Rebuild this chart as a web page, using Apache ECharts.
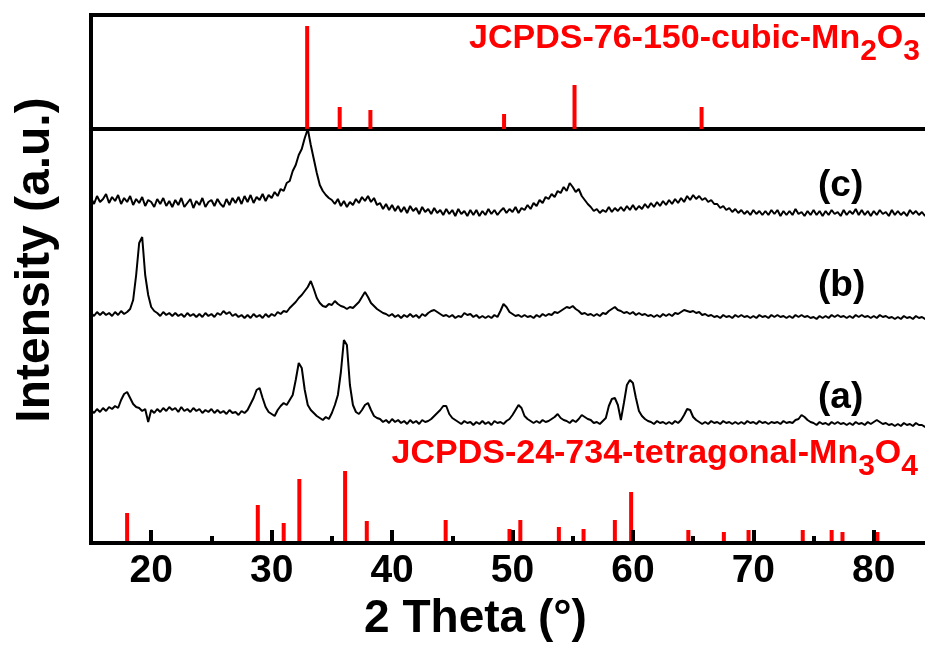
<!DOCTYPE html>
<html>
<head>
<meta charset="utf-8">
<script src="https://cdn.jsdelivr.net/npm/echarts@6/dist/echarts.min.js"></script>
<style>
html,body{margin:0;padding:0;background:#fff;}
#chart{width:925px;height:645px;}
</style>
</head>
<body>
<div id="chart"></div>
<script>
// 2-theta sampling of the measured patterns (degrees)
const thetaStart = 15;
const thetaStep = 0.25;

// Pattern (a), intensity in a.u. (offset stacked)
const patternA = [
133,130,134,131, 135,132,136,134, 137,135,143,149, 151,145,139,136,
135,132,134,121, 133,130,134,131, 135,132,136,133, 135,131,136,132,
134,131,135,132, 134,130,133,131, 134,130,133,130, 132,129,133,130,
131,128,132,130, 133,139,145,153, 155,145,136,131, 129,127,133,137,
140,138,143,148, 163,180,175,153, 138,133,130,127, 125,123,126,124,
130,138,148,171, 203,198,158,138, 131,129,133,138, 140,133,127,125,
124,121,123,120, 124,121,123,120, 122,119,123,120, 122,119,123,121,
122,124,127,130, 133,137,137,129, 125,123,121,119, 122,120,121,118,
121,119,122,119, 121,118,122,120, 121,119,122,124, 128,133,138,135,
127,124,122,120, 122,120,123,121, 122,124,126,129, 125,123,122,120,
123,121,124,128, 126,124,123,120, 121,119,122,125, 137,144,145,138,
123,140,158,163, 160,145,132,127, 124,122,121,119, 122,120,121,119,
121,119,122,120, 123,128,134,133, 126,123,121,119, 121,119,122,120,
121,119,122,120, 121,119,121,119, 121,119,122,120, 121,119,122,120,
121,119,121,120, 121,119,122,120, 121,120,123,124, 128,126,123,121,
120,118,121,119, 120,118,121,119, 121,119,120,118, 120,118,121,119,
120,118,121,119, 121,123,121,119, 120,118,119,117, 119,117,120,118,
119,117,120,118, 118,116,119,117, 116
];

// Pattern (b)
const patternB = [
230,227,231,228, 231,228,230,227, 231,228,232,229, 231,234,243,268,
300,306,268,248, 236,232,230,227, 231,228,230,227, 230,227,229,226,
230,227,229,226, 229,226,230,227, 229,226,230,228, 232,229,231,227,
229,226,228,225, 228,225,229,226, 228,225,229,226, 229,227,231,229,
232,231,235,238, 241,245,248,252, 256,262,254,245, 240,237,236,239,
238,242,239,237, 236,234,236,235, 238,241,246,251, 246,240,237,234,
232,230,229,227, 229,226,228,225, 228,226,229,226, 228,225,229,227,
230,232,233,231, 229,227,228,226, 228,225,227,226, 230,228,229,226,
228,225,227,225, 227,225,228,226, 232,239,236,231, 229,227,228,226,
228,226,227,225, 228,226,229,227, 229,228,231,230, 232,234,236,235,
237,234,232,229, 230,228,229,227, 229,227,230,229, 232,234,236,233,
232,230,231,229, 231,228,230,228, 229,227,228,226, 228,226,229,227,
229,227,230,229, 231,233,232,231, 232,230,231,228, 229,227,228,226,
227,225,228,226, 227,225,228,226, 228,226,227,225, 227,225,228,226,
227,225,228,226, 228,226,227,225, 227,225,228,226, 228,226,227,225,
226,224,227,225, 227,225,228,226, 228,226,227,225, 227,225,228,226,
228,226,227,225, 227,225,228,226, 227,225,226,224, 226,224,227,225,
226,224,227,225, 226,224,225,223, 225
];

// Pattern (c)
const patternC = [
345,339,347,341, 344,349,340,346, 342,348,339,345, 341,347,338,344,
340,346,337,343, 341,336,344,339, 345,337,342,336, 343,338,345,336,
340,344,335,342, 338,345,336,341, 343,337,344,339, 336,344,338,345,
340,346,339,347, 341,348,340,346, 343,349,342,348, 345,351,347,354,
352,360,362,372, 378,388,394,405, 414,398,384,370, 358,352,348,345,
343,339,344,337, 342,336,341,338, 344,340,346,342, 347,341,345,338,
340,334,339,333, 338,332,337,331, 336,330,337,332, 335,329,336,331,
334,329,335,330, 333,328,334,329, 333,327,334,329, 332,327,333,328,
333,327,332,328, 334,329,333,328, 332,335,330,334, 331,336,330,335,
333,338,334,340, 337,343,340,346, 344,349,346,352, 350,356,352,360,
356,351,354,347, 343,339,336,332, 334,330,333,331, 336,331,335,332,
336,332,337,333, 338,333,337,334, 339,335,340,336, 341,337,342,338,
343,339,344,340, 345,341,347,343, 348,344,347,343, 345,341,343,339,
339,335,337,333, 335,331,334,330, 333,329,332,328, 333,329,332,328,
332,328,333,329, 333,327,332,328, 332,328,334,329, 331,327,332,328,
333,328,332,327, 332,328,333,329, 331,327,333,328, 332,329,334,328,
333,328,332,327, 332,328,333,329, 331,327,333,328, 332,328,331,327,
333,329,332,328, 331,327,333,329, 331
];

// Reference patterns: peak positions (2θ) and relative stick heights
const cubicPos     = [32.95, 35.65, 38.2, 49.3, 55.15, 65.7];
const cubicHeight  = [103, 22, 19, 15, 44, 22];
const tetraPos     = [18.0, 28.85, 31.0, 32.3, 36.1, 37.9, 44.45, 49.75, 50.65, 53.85,
                      55.9, 58.5, 59.85, 64.6, 67.55, 69.6, 74.1, 76.5, 77.4, 80.3];
const tetraHeight  = [30, 38, 20, 64, 72, 22, 23, 14, 23, 16,
                      14, 23, 51, 13, 11, 13, 13, 13, 11, 11];

const xMin = 15, xMax = 85;
const xMajorTicks = [20, 30, 40, 50, 60, 70, 80];
const sampleLabels = ['(a)', '(b)', '(c)'];

function pairs(arr) {
  const out = [];
  for (let i = 0; i < arr.length; i++) out.push([thetaStart + i * thetaStep, arr[i]]);
  return out;
}
function sticks(pos, h) { return pos.map((p, i) => [p, h[i]]); }

const ARIAL = '"Liberation Sans", Arial, Helvetica, sans-serif';
const RED = '#ff0000';

const chart = echarts.init(document.getElementById('chart'), null, {renderer: 'canvas'});
chart.setOption({
  animation: false,
  backgroundColor: '#ffffff',
  grid: [
    {left: 91, width: 843, top: 15, height: 114, show: true, borderColor: '#000', borderWidth: 4,
     backgroundColor: 'transparent', containLabel: false, outerBoundsMode: 'none'},
    {left: 91, width: 843, top: 129, height: 414, show: true, borderColor: '#000', borderWidth: 4,
     backgroundColor: 'transparent', containLabel: false, outerBoundsMode: 'none'}
  ],
  xAxis: [
    {gridIndex: 0, type: 'value', min: xMin, max: xMax, interval: 5, position: 'bottom',
     axisLine: {show: false}, axisTick: {show: false}, axisLabel: {show: false}, splitLine: {show: false}},
    {gridIndex: 1, type: 'value', min: xMin, max: xMax, interval: 5, z: 5, position: 'bottom',
     axisLine: {show: true, lineStyle: {color: '#000', width: 4}},
     axisTick: {show: true, inside: true, length: 7, lineStyle: {color: '#000', width: 4}},
     axisLabel: {show: true, margin: 9, color: '#000', fontFamily: ARIAL, fontWeight: 'bold', fontSize: 39,
       customValues: xMajorTicks},
     splitLine: {show: false},
     name: '2 Theta (°)', nameLocation: 'middle', nameGap: 47,
     nameTextStyle: {color: '#000', fontFamily: ARIAL, fontWeight: 'bold', fontSize: 46, padding: [0, 74, 0, 0]}},
    {gridIndex: 1, type: 'value', min: xMin, max: xMax, interval: 5, z: 5, position: 'bottom',
     axisLine: {show: false},
     axisTick: {show: true, inside: true, length: 13, customValues: xMajorTicks, lineStyle: {color: '#000', width: 4}},
     axisLabel: {show: false}, splitLine: {show: false}}
  ],
  yAxis: [
    {gridIndex: 0, type: 'value', min: 0, max: 114, show: false},
    {gridIndex: 1, type: 'value', min: 0, max: 414,
     axisLine: {show: false}, axisTick: {show: false}, axisLabel: {show: false}, splitLine: {show: false},
     name: 'Intensity (a.u.)', nameLocation: 'middle', nameGap: 31, nameRotate: 90,
     nameTextStyle: {color: '#000', fontFamily: ARIAL, fontWeight: 'bold', fontSize: 48, padding: [0, 0, 0, 152]}}
  ],
  series: [
    {name: 'JCPDS-76-150 cubic Mn2O3', type: 'bar', xAxisIndex: 0, yAxisIndex: 0, barWidth: 4,
     itemStyle: {color: RED}, data: sticks(cubicPos, cubicHeight)},
    {name: 'JCPDS-24-734 tetragonal Mn3O4', type: 'bar', xAxisIndex: 1, yAxisIndex: 1, barWidth: 4,
     itemStyle: {color: RED}, data: sticks(tetraPos, tetraHeight)},
    {name: '(a)', type: 'line', xAxisIndex: 1, yAxisIndex: 1, showSymbol: false, symbol: 'none',
     lineStyle: {color: '#000', width: 2}, data: pairs(patternA)},
    {name: '(b)', type: 'line', xAxisIndex: 1, yAxisIndex: 1, showSymbol: false, symbol: 'none',
     lineStyle: {color: '#000', width: 2}, data: pairs(patternB)},
    {name: '(c)', type: 'line', xAxisIndex: 1, yAxisIndex: 1, showSymbol: false, symbol: 'none',
     lineStyle: {color: '#000', width: 2}, data: pairs(patternC)}
  ],
  graphic: [
    {type: 'text', right: 5, top: 22, z: 10,
     style: {text: '{m|JCPDS-76-150-cubic-Mn}{s|2}{m|O}{s|3}',
       rich: {m: {fontSize: 34, fontWeight: 'bold', fontFamily: ARIAL, fill: RED, color: RED},
              s: {fontSize: 30, fontWeight: 'bold', fontFamily: ARIAL, fill: RED, color: RED, padding: [26, 0, 0, 0]}}}},
    {type: 'text', right: 7, top: 437, z: 10,
     style: {text: '{m|JCPDS-24-734-tetragonal-Mn}{s|3}{m|O}{s|4}',
       rich: {m: {fontSize: 34, fontWeight: 'bold', fontFamily: ARIAL, fill: RED, color: RED},
              s: {fontSize: 30, fontWeight: 'bold', fontFamily: ARIAL, fill: RED, color: RED, padding: [26, 0, 0, 0]}}}},
    {type: 'text', left: 818, top: 379, z: 10,
     style: {text: sampleLabels[0], font: 'bold 37px "Liberation Sans", Arial, sans-serif', fill: '#000'}},
    {type: 'text', left: 818, top: 267, z: 10,
     style: {text: sampleLabels[1], font: 'bold 37px "Liberation Sans", Arial, sans-serif', fill: '#000'}},
    {type: 'text', left: 818, top: 167, z: 10,
     style: {text: sampleLabels[2], font: 'bold 37px "Liberation Sans", Arial, sans-serif', fill: '#000'}}
  ]
});
</script>
</body>
</html>
